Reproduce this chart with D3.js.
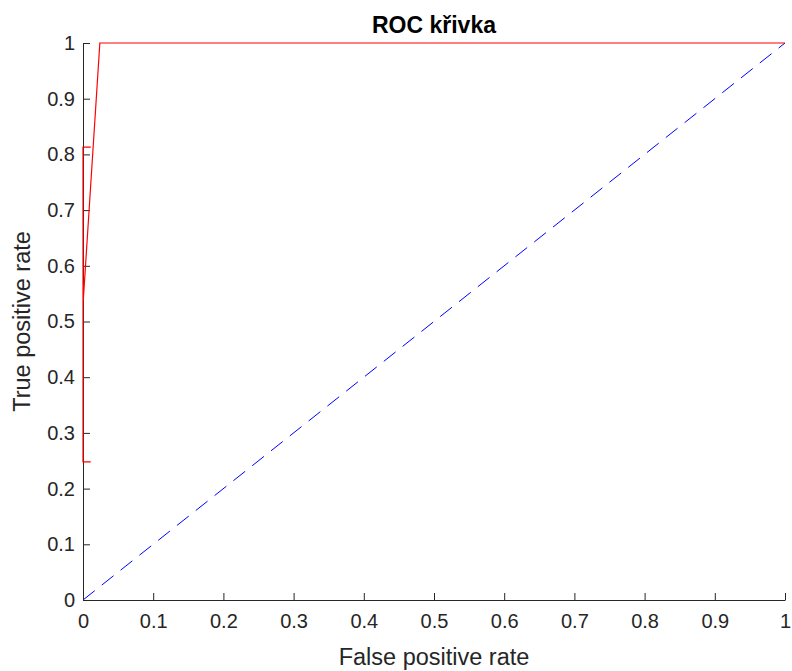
<!DOCTYPE html>
<html>
<head>
<meta charset="utf-8">
<script src="https://cdn.jsdelivr.net/npm/d3@7"></script>
<style>
body{margin:0;background:#fff}
svg text{font-family:"Liberation Sans",Arial,sans-serif}
</style>
</head>
<body>
<script>
// ROC curve points (false positive rate, true positive rate); null splits the path
var rocFpr=[0.011,0,0,0.011,null,0,0.024,1]
var rocTpr=[0.248,0.248,0.813,0.813,null,0.53,1,1]
// random classifier reference
var refFpr=[0,1]
var refTpr=[0,1]
var xTicks=[0,0.1,0.2,0.3,0.4,0.5,0.6,0.7,0.8,0.9,1]
var yTicks=[0,0.1,0.2,0.3,0.4,0.5,0.6,0.7,0.8,0.9,1]

var width=792, height=671
var plotLeft=83, plotRight=785, plotTop=43, plotBottom=600
var axisColor="#262626"

var svg=d3.select("body").append("svg")
	.attr("width",width)
	.attr("height",height)

var scaleX=d3.scaleLinear().domain([0,1]).range([plotLeft,plotRight])
var scaleY=d3.scaleLinear().domain([0,1]).range([plotBottom,plotTop])

var roc=rocFpr.map(function(d,i){return [d,rocTpr[i]]})
var ref=refFpr.map(function(d,i){return [d,refTpr[i]]})

var line=d3.line()
	.defined(function(d){return d[0]!==null})
	.x(function(d){return scaleX(d[0])})
	.y(function(d){return scaleY(d[1])})

svg.append("path")
	.attr("d",line(ref))
	.attr("fill","none")
	.attr("stroke","#0000ff")
	.attr("stroke-width",1)
	.attr("stroke-dasharray","15,9")

var xAxis=d3.axisBottom(scaleX).tickValues(xTicks).tickSizeInner(-7).tickSizeOuter(0).tickPadding(14)
	.tickFormat(d3.format("~g"))
var yAxis=d3.axisLeft(scaleY).tickValues(yTicks).tickSizeInner(-7).tickSizeOuter(0).tickPadding(14)
	.tickFormat(d3.format("~g"))

var gx=svg.append("g")
	.attr("transform","translate(0,"+plotBottom+")")
	.call(xAxis)
var gy=svg.append("g")
	.attr("transform","translate("+plotLeft+",0)")
	.call(yAxis)

svg.selectAll(".domain").attr("stroke",axisColor)
svg.selectAll(".tick line").attr("stroke",axisColor)
svg.selectAll(".tick text").attr("fill",axisColor).style("font-size","20px")
gx.selectAll(".tick text").attr("dy","0.71em").attr("y",14)
gy.selectAll(".tick text").attr("x",-8)

svg.append("path")
	.attr("d",line(roc))
	.attr("fill","none")
	.attr("stroke","#ff0000")
	.attr("stroke-width",1.2)

svg.append("text")
	.attr("x",(plotLeft+plotRight)/2)
	.attr("y",33)
	.attr("text-anchor","middle")
	.style("font-size","23px")
	.style("font-weight","bold")
	.attr("fill","#000")
	.text("ROC křivka")

svg.append("text")
	.attr("x",(plotLeft+plotRight)/2)
	.attr("y",665)
	.attr("text-anchor","middle")
	.style("font-size","23.5px")
	.attr("fill",axisColor)
	.text("False positive rate")

svg.append("text")
	.attr("transform","translate(30,"+((plotTop+plotBottom)/2)+") rotate(-90)")
	.attr("text-anchor","middle")
	.style("font-size","23.5px")
	.attr("fill",axisColor)
	.text("True positive rate")
</script>
</body>
</html>
